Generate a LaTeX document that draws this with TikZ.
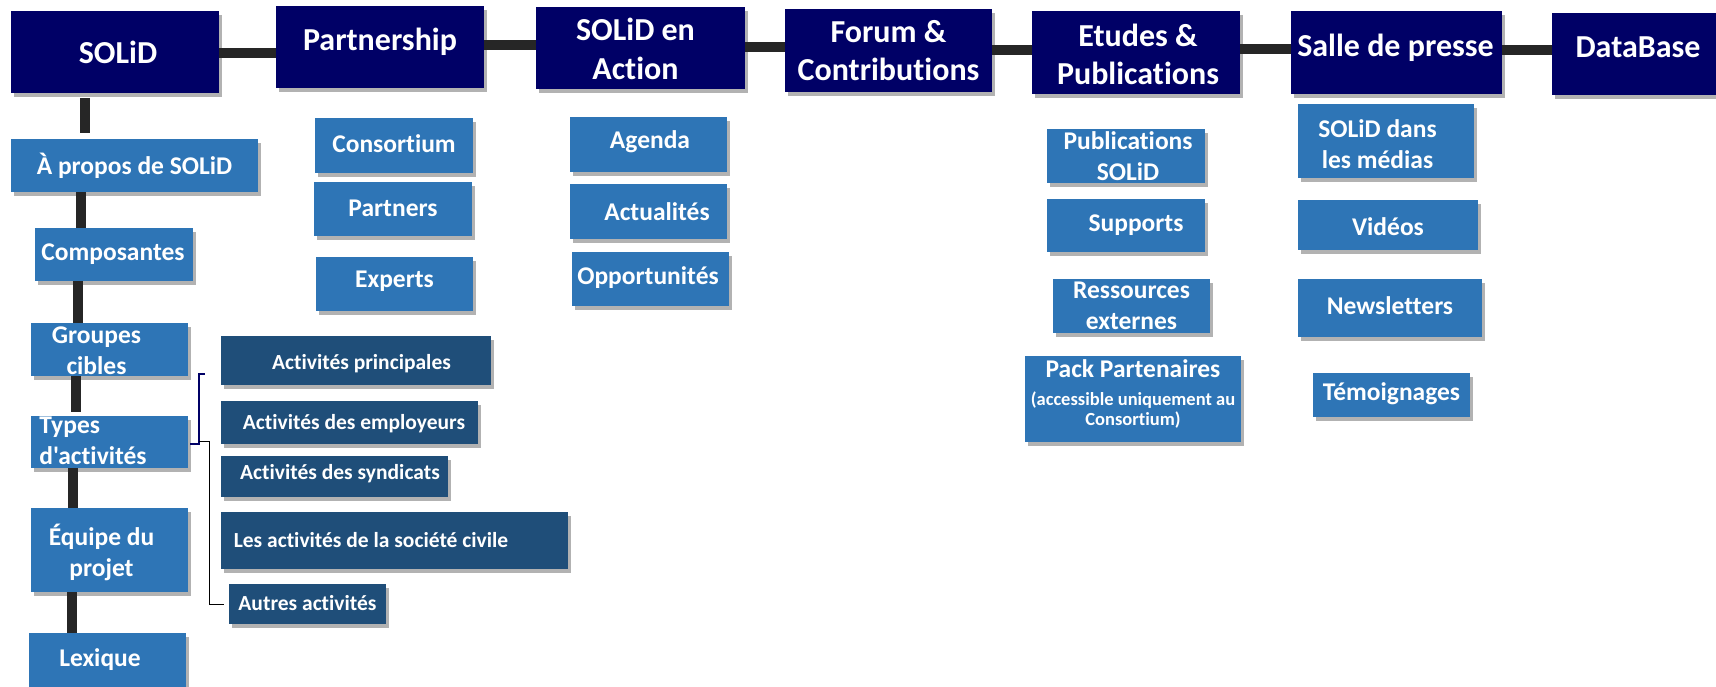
\documentclass[tikz,border=0pt]{standalone}
\usepackage{fontspec}
\setmainfont{Carlito}[Ligatures={TeXOff,NoCommon}]
\usetikzlibrary{shadows}
\definecolor{navy}{RGB}{0,0,102}
\definecolor{subblue}{RGB}{46,117,182}
\definecolor{actblue}{RGB}{31,78,121}
\definecolor{connc}{RGB}{38,38,38}
\newcommand\bx[7][]{\node[#2, minimum width=#5pt, minimum height=#6pt, label={[#2 text,#1]center:{#7}}] (#3) at (#4) {};}
\tikzset{
  box/.style={draw=none, inner sep=0pt, drop shadow={shadow xshift=3pt, shadow yshift=-4pt, opacity=.3, fill=black}},
  topbox/.style={box, fill=navy},
  topbox text/.style={text=white, font=\fontsize{32}{38.5}\selectfont\bfseries, align=center, inner sep=0pt},
  subbox/.style={box, fill=subblue},
  subbox text/.style={text=white, font=\fontsize{25.5}{31}\selectfont\bfseries, align=center, inner sep=0pt},
  actbox/.style={box, fill=actblue},
  actbox text/.style={text=white, font=\fontsize{21.5}{26}\selectfont\bfseries, align=center, inner sep=0pt},
  link/.style={draw=connc, line width=10pt},
  brk/.style={draw=navy, line width=2pt},
  thinl/.style={draw=black, line width=1pt},
}
\begin{document}
\begin{tikzpicture}[x=1pt,y=-1pt]
\useasboundingbox (0,0) rectangle (1716,686);
\fill[white] (0,0) rectangle (1716,686);
\clip (0,0) rectangle (1716,686);
% top row
\bx[shift={(3,0)}]{topbox}{solid}{115,52}{208}{82}{SOLiD}
\bx[shift={(0,-5)}]{topbox}{partner}{380,47}{208}{82}{Partnership}
\bx[shift={(-5,1)}]{topbox}{action}{640.5,48}{209}{82}{SOLiD en\\Action}
\bx{topbox}{forum}{888.5,50.5}{207}{83}{Forum \&\\Contributions}
\bx[shift={(2,2)}]{topbox}{etudes}{1136,52.5}{208}{83}{Etudes \&\\Publications}
\bx[shift={(-1,-4.5)}]{topbox}{salle}{1396.5,52.5}{211}{83}{Salle de presse}
\bx[shift={(1,-7)}]{topbox}{database}{1637,54}{170}{82}{DataBase}
% left column
\bx{subbox}{apropos}{134.5,165.5}{247}{53}{À propos de SOLiD}
\bx[shift={(-1,0)}]{subbox}{compos}{114,254.5}{158}{53}{Composantes}
\bx[shift={(-13,1)}]{subbox}{groupes}{109.5,349.5}{157}{53}{Groupes\\cibles}
\bx[shift={(-16.5,-1)},align=left]{subbox}{types}{109.5,442}{157}{52}{Types\\d'activités}
\bx[shift={(-8,2.5)}]{subbox}{equipe}{109.5,550}{157}{84}{Équipe du\\projet}
\bx[shift={(-7,-1.5)}]{subbox}{lexique}{107,661.5}{157}{57}{Lexique}
% partnership
\bx[shift={(0,-2)}]{subbox}{consortium}{394,145.5}{158}{55}{Consortium}
\bx[shift={(0,-1)}]{subbox}{partners}{393,209}{158}{54}{Partners}
\bx[shift={(0,-3)}]{subbox}{experts}{394.5,284}{157}{54}{Experts}
% activities
\bx[shift={(6,3)}]{actbox}{actprin}{355.5,360.5}{270}{49}{Activités principales}
\bx[shift={(4.5,1.5)}]{actbox}{actemp}{349.5,422.5}{257}{43}{Activités des employeurs}
\bx[shift={(5.5,-2.5)}]{actbox}{actsyn}{334.5,476.5}{227}{41}{Activités des syndicats}
\bx[shift={(-23.5,0)}]{actbox}{actciv}{394.5,540.5}{347}{57}{Les activités de la société civile}
\bx[shift={(0,-1)}]{actbox}{autres}{307.5,604}{157}{40}{Autres activités}
% SOLiD en Action
\bx[shift={(1.5,-2.5)}]{subbox}{agenda}{648.5,144.5}{157}{55}{Agenda}
\bx[shift={(8.5,0)}]{subbox}{actual}{648.5,211.5}{157}{55}{Actualités}
\bx[shift={(-2.5,-1)}]{subbox}{opport}{650.5,279}{157}{54}{Opportunités}
% Etudes
\bx[shift={(2,0)}]{subbox}{pubs}{1126,156}{158}{54}{Publications\\SOLiD}
\bx[shift={(10,0)}]{subbox}{supports}{1126,225.5}{158}{53}{Supports}
\bx{subbox}{ressources}{1131.5,306}{157}{54}{Ressources\\externes}
\bx[shift={(0,-5)}]{subbox}{pack}{1133,399}{216}{86}{Pack Partenaires\\[-3pt]{\fontsize{18.5}{20}\selectfont (accessible uniquement au}\\[-11pt]{\fontsize{18.5}{20}\selectfont Consortium)}}
% Salle de presse
\bx[shift={(-8.5,3.5)}]{subbox}{medias}{1386,141}{176}{74}{SOLiD dans\\les médias}
\bx[shift={(0,2)}]{subbox}{videos}{1388,225}{180}{50}{Vidéos}
\bx[shift={(0,-2)}]{subbox}{news}{1390,308}{184}{58}{Newsletters}
\bx[shift={(0,-1)}]{subbox}{temoign}{1391.5,395}{157}{44}{Témoignages}
% horizontal links
\coordinate (h1) at (0,53);
\coordinate (h2) at (0,45);
\coordinate (h3) at (0,47);
\coordinate (h4) at (0,50);
\coordinate (h5) at (0,49);
\coordinate (h6) at (0,50);
\draw[link] (solid.east |- h1) -- (partner.west |- h1);
\draw[link] (partner.east |- h2) -- (action.west |- h2);
\draw[link] (action.east |- h3) -- (forum.west |- h3);
\draw[link] (forum.east |- h4) -- (etudes.west |- h4);
\draw[link] (etudes.east |- h5) -- (salle.west |- h5);
\draw[link] (salle.east |- h6) -- (database.west |- h6);
% vertical links
\coordinate (v1) at (84.5,0);
\coordinate (v2) at (81,0);
\coordinate (v3) at (78,0);
\coordinate (v4) at (75.5,0);
\coordinate (v5) at (73,0);
\coordinate (v6) at (72,0);
\draw[link, shorten <=5pt, shorten >=6pt] (solid.south -| v1) -- (apropos.north -| v1);
\draw[link] (apropos.south -| v2) -- (compos.north -| v2);
\draw[link] (compos.south -| v3) -- (groupes.north -| v3);
\draw[link, shorten >=4pt] (groupes.south -| v4) -- (types.north -| v4);
\draw[link] (types.south -| v5) -- (equipe.north -| v5);
\draw[link] (equipe.south -| v6) -- (lexique.north -| v6);
% bracket and branch line
\coordinate (b1) at (199,444);
\coordinate (b2) at (199,374);
\coordinate (t1) at (209,441.5);
\draw[brk] ([xshift=2pt]types.east |- b1) -- (b1) -- (b2) -- ++(6,0);
\draw[thinl, shorten >=5pt] (b1 |- t1) -- (t1) |- (autres.west);
\end{tikzpicture}
\end{document}
